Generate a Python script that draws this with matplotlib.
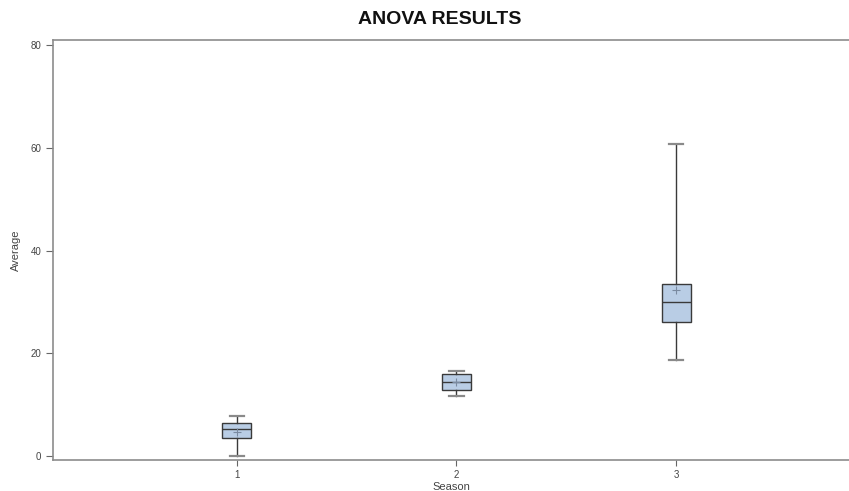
import matplotlib
matplotlib.use('Agg')
import matplotlib.pyplot as plt

plt.rcParams['font.family'] = ['Liberation Sans', 'DejaVu Sans']

seasons = ['1', '2', '3']
whisker_low = [0.0, 11.7, 18.7]
q1 = [3.4, 12.8, 26.1]
median = [5.25, 14.45, 29.9]
q3 = [6.5, 15.9, 33.4]
whisker_high = [7.85, 16.5, 60.7]
means = [4.7, 14.3, 32.3]

stats = []
for i, s in enumerate(seasons):
    stats.append(dict(label=s, whislo=whisker_low[i], q1=q1[i], med=median[i],
                      q3=q3[i], whishi=whisker_high[i], mean=means[i], fliers=[]))

fig = plt.figure(figsize=(8.49, 4.91), dpi=100)
ax = fig.add_axes([53 / 849, 31 / 491, 1 - 53 / 849, 420 / 491])

ax.bxp(stats, positions=[1, 2, 3], widths=0.13, patch_artist=True, showmeans=True,
       boxprops=dict(facecolor='#b9cde5', edgecolor='#3a3a3a', linewidth=1.0),
       medianprops=dict(color='#3a3a3a', linewidth=1.0),
       whiskerprops=dict(color='#3a3a3a', linewidth=1.0),
       capprops=dict(color='#8a8a8a', linewidth=1.6),
       meanprops=dict(marker='+', markeredgecolor='#7a8aa0', markersize=6,
                      markeredgewidth=0.8))

ax.set_xlim(0.164, 3.786)
ax.set_ylim(-0.8, 81)
ax.set_yticks([0, 20, 40, 60, 80])
ax.set_xticks([1, 2, 3])
ax.set_xticklabels(seasons)

for side in ['left', 'bottom', 'top']:
    ax.spines[side].set_color('#8c8c8c')
    ax.spines[side].set_linewidth(1.2)
ax.spines['right'].set_visible(False)

ax.tick_params(axis='both', direction='out', length=5, width=0.8, color='#666666',
               labelsize=7, labelcolor='#444444')
ax.tick_params(axis='x', length=4, pad=3)

ax.set_ylabel('Average', fontsize=8, color='#444444', labelpad=7)
ax.set_xlabel('Season', fontsize=8, color='#444444', labelpad=2)

fig.text(440 / 849, 1 - 19 / 491, 'ANOVA RESULTS', ha='center', va='center',
         fontsize=14, fontweight='bold', color='#111111')

fig.savefig('out.png', dpi=100)
